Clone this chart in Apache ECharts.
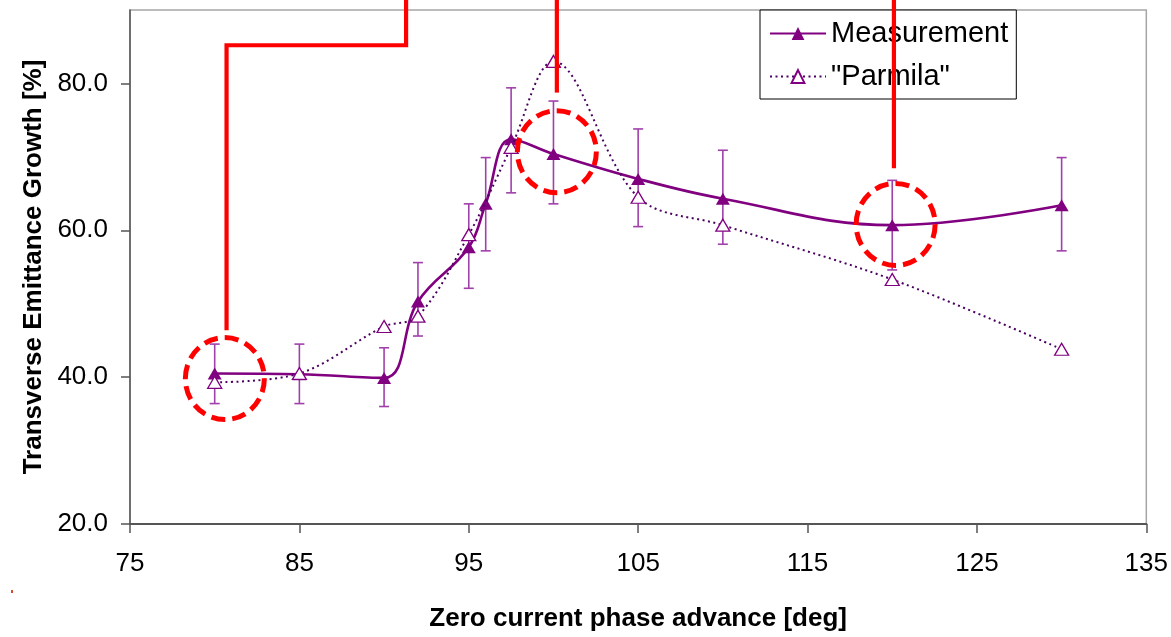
<!DOCTYPE html>
<html>
<head>
<meta charset="utf-8">
<script src="https://cdn.jsdelivr.net/npm/echarts@6/dist/echarts.min.js"></script>
<style>
html,body{margin:0;padding:0;background:#fff;}
#chart{width:1171px;height:637px;}
</style>
</head>
<body>
<div id="chart"></div>
<script>
// ---- data ----
const xTicks = [75, 85, 95, 105, 115, 125, 135];
const yTicks = [20, 40, 60, 80];

const measX = [80, 85, 90, 92, 95, 96, 97.5, 100, 105, 110, 120, 130];
const measY = [40.5, 40.4, 39.9, 50.3, 57.7, 63.6, 72.4, 70.4, 67.0, 64.3, 60.7, 63.4];
const errLow  = [36.4, 36.4, 36.0, 45.6, 52.1, 57.2, 65.1, 63.6, 60.5, 58.1, 54.6, 57.2];
const errHigh = [44.5, 44.5, 44.0, 55.6, 63.6, 69.9, 79.4, 77.6, 73.8, 70.9, 66.8, 69.9];

const parmX = [80, 85, 90, 92, 95, 97.5, 100, 105, 110, 120, 130];
const parmY = [39.3, 40.5, 46.9, 48.3, 59.4, 71.3, 83.0, 64.5, 60.7, 53.3, 43.8];

// red annotation overlay (in data coordinates)
const circleCenters = [[80.6, 39.8], [100.2, 70.7], [120.2, 60.8]];
const leaderLines = [
  [[80.7, 46.4], [80.7, 85.2], [91.3, 85.2], [91.3, 92.5]],
  [[100.2, 78.75], [100.2, 92.5]],
  [[120.1, 68.46], [120.1, 92.5]]
];

const FONT = '"Liberation Sans", Arial, sans-serif';
const PURPLE = '#800080';

const chart = echarts.init(document.getElementById('chart'), null, {renderer: 'canvas'});

const option = {
  animation: false,
  backgroundColor: '#ffffff',
  grid: {
    left: 130, right: 22, top: 10, bottom: 103,
    show: true, borderColor: '#a6a6a6', borderWidth: 1.5, backgroundColor: 'transparent'
  },
  legend: {
    data: ['Measurement', '"Parmila"'],
    orient: 'vertical',
    left: 760, top: 10,
    padding: [9, 8, 8, 9],
    itemGap: 14,
    itemWidth: 56,
    itemHeight: 16,
    backgroundColor: '#ffffff',
    borderColor: '#000000',
    borderWidth: 1,
    borderRadius: 0,
    textStyle: {fontFamily: FONT, fontSize: 29, color: '#000'},
    z: 5
  },
  xAxis: {
    type: 'value',
    min: 75, max: 135,
    name: 'Zero current phase advance [deg]',
    nameLocation: 'middle',
    nameGap: 82,
    nameTextStyle: {fontFamily: FONT, fontSize: 26, fontWeight: 'bold', color: '#000'},
    axisLine: {show: true, onZero: false, lineStyle: {color: '#555555', width: 2}},
    axisTick: {show: true, length: 9, customValues: xTicks, lineStyle: {color: '#555555', width: 1.5}},
    axisLabel: {customValues: xTicks, margin: 27, fontFamily: FONT, fontSize: 26, color: '#000'},
    splitLine: {show: false}
  },
  yAxis: {
    type: 'value',
    min: 20, max: 90,
    name: 'Transverse Emittance Growth [%]',
    nameLocation: 'middle',
    nameGap: 82,
    nameTextStyle: {fontFamily: FONT, fontSize: 26, fontWeight: 'bold', color: '#000'},
    axisLine: {show: true, onZero: false, lineStyle: {color: '#555555', width: 1.5}},
    axisTick: {show: true, length: 9, customValues: yTicks, lineStyle: {color: '#555555', width: 1.5}},
    axisLabel: {customValues: yTicks, margin: 22, fontFamily: FONT, fontSize: 26, color: '#000',
      formatter: v => Number(v).toFixed(1)},
    splitLine: {show: false}
  },
  series: [
    {
      type: 'custom',
      name: 'errorbars',
      silent: true,
      z: 2,
      data: measX.map((x, i) => [x, errLow[i], errHigh[i]]),
      encode: {x: 0, y: [1, 2]},
      renderItem: function (params, api) {
        const lo = api.coord([api.value(0), api.value(1)]);
        const hi = api.coord([api.value(0), api.value(2)]);
        const w = 5;
        const st = {stroke: '#a040aa', lineWidth: 1.6};
        return {
          type: 'group',
          children: [
            {type: 'line', shape: {x1: lo[0], y1: lo[1], x2: hi[0], y2: hi[1]}, style: st},
            {type: 'line', shape: {x1: lo[0] - w, y1: lo[1], x2: lo[0] + w, y2: lo[1]}, style: st},
            {type: 'line', shape: {x1: hi[0] - w, y1: hi[1], x2: hi[0] + w, y2: hi[1]}, style: st}
          ]
        };
      }
    },
    {
      type: 'line',
      name: 'Measurement',
      z: 3,
      data: measX.map((x, i) => [x, measY[i]]),
      smooth: 0.4,
      symbol: 'triangle',
      symbolSize: [14, 12],
      showAllSymbol: true,
      lineStyle: {color: PURPLE, width: 2.6},
      itemStyle: {color: PURPLE, borderWidth: 0}
    },
    {
      type: 'line',
      name: '"Parmila"',
      z: 4,
      data: parmX.map((x, i) => [x, parmY[i]]),
      smooth: 0.35,
      symbol: 'triangle',
      symbolSize: [14, 12],
      showAllSymbol: true,
      lineStyle: {color: '#4a0060', width: 2, type: [2, 3.5]},
      itemStyle: {color: '#ffffff', borderColor: PURPLE, borderWidth: 1.3}
    },
    {
      type: 'custom',
      name: 'circles',
      silent: true,
      z: 10,
      clip: false,
      data: circleCenters,
      renderItem: function (params, api) {
        const c = api.coord([api.value(0), api.value(1)]);
        return {
          type: 'ellipse',
          shape: {cx: c[0], cy: c[1], rx: 39.5, ry: 41},
          style: {fill: null, stroke: '#ff0000', lineWidth: 5, lineDash: [14, 7]}
        };
      }
    },
    {
      type: 'custom',
      name: 'leaders',
      silent: true,
      z: 10,
      clip: false,
      data: leaderLines.map((p, i) => [p[0][0], p[0][1], i]),
      renderItem: function (params, api) {
        const pts = leaderLines[params.dataIndex].map(p => api.coord(p));
        return {
          type: 'polyline',
          shape: {points: pts},
          style: {fill: null, stroke: '#ff0000', lineWidth: 4.2, lineJoin: 'miter'}
        };
      }
    }
  ],
  graphic: [
    {type: 'rect', left: 11, top: 590, shape: {width: 2, height: 3}, style: {fill: '#d84a2a'}, silent: true}
  ]
};

chart.setOption(option);
</script>
</body>
</html>
